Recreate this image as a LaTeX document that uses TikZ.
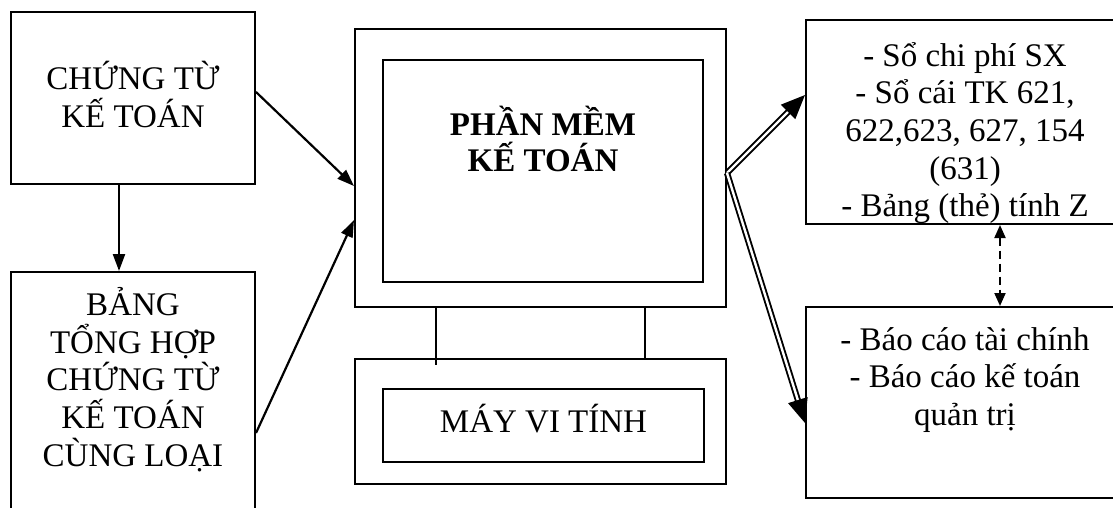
\documentclass[tikz,border=0pt]{standalone}
\usepackage{fontspec}
\setmainfont{Liberation Serif}
\usetikzlibrary{positioning,arrows.meta}

\begin{document}
\begin{tikzpicture}[x=1pt,y=-1pt,
  main box/.style={draw,line width=2pt,inner sep=0pt,align=center,
    font=\fontsize{33}{37.7}\selectfont},
  label text/.style={inner sep=0pt,align=center,font=\fontsize{33}{37.7}\selectfont},
  flow line/.style={line width=2.2pt,-{Triangle[length=17pt,width=12pt]}},
  double line/.style={double,line width=1.9pt,double distance=2.4pt,
    -{Triangle[length=24pt,width=20pt]}},
  dash line/.style={line width=2pt,dash pattern=on 8pt off 5pt,
    {Triangle[length=13pt,width=11pt]}-{Triangle[length=13pt,width=11pt]}}]
  \useasboundingbox (0,0) rectangle (1113,508);
  \clip (0,0) rectangle (1113,508);

  % left column
  \node[main box,minimum width=244pt,minimum height=172pt] (ctkt) at (133,98) {};
  \node[label text,below=50pt of ctkt.north] (ctkttext) {CHỨNG TỪ\\KẾ TOÁN};
  \node[main box,minimum width=244pt,minimum height=288pt] (bth) at (133,416) {};
  \node[label text,below=16pt of bth.north] (bthtext) {BẢNG\\TỔNG HỢP\\CHỨNG TỪ\\KẾ TOÁN\\CÙNG LOẠI};

  % computer
  \node[main box,minimum width=371pt,minimum height=278pt] (mon) at (540.5,168) {};
  \node[main box,minimum width=320pt,minimum height=222pt] (screen) at (543,171) {};
  \node[label text,font=\fontsize{33}{36}\selectfont\bfseries,below=47pt of screen.north] (pmkt) {PHẦN MỀM\\KẾ TOÁN};
  \node[main box,minimum width=371pt,minimum height=125pt] (base) at (540.5,421.5) {};
  \node[main box,minimum width=321pt,minimum height=73pt,text height=43pt,text depth=30pt] (mvt) at (543.5,425.5) {MÁY VI TÍNH};
  \draw[line width=1.4pt] (mon.south -| 436,0) -- (436,365);
  \draw[line width=1.4pt] (mon.south -| 645,0) -- (base.north -| 645,0);

  % right column
  \node[main box,minimum width=318pt,minimum height=204pt] (socp) at (965,122) {};
  \begin{scope}
    \clip (socp.north west) rectangle ([yshift=3pt]socp.south east);
    \node[label text,below=23pt of socp.north] (socptext)
      {- Sổ chi phí SX\\- Sổ cái TK 621,\\622,623, 627, 154\\(631)\\- Bảng (thẻ) tính Z};
  \end{scope}
  \node[main box,minimum width=318pt,minimum height=191pt] (bcao) at (965,402.5) {};
  \node[label text,below=21pt of bcao.north] (bcaotext) {- Báo cáo tài chính\\- Báo cáo kế toán\\quản trị};

  \coordinate (fork) at (mon.east |- 0,173);

  \path[flow line]
    (ctkt.south -| 119,0) edge (bth.north -| 119,0)
    (ctkt.east |- 0,92) edge (mon.west |- 0,186)
    (bth.east |- 0,433) edge (mon.west |- 0,220);

  \draw[double line] (fork) -- (socp.west |- 0,95);
  \draw[double line] (fork) -- (bcao.west |- 0,423);

  \path[dash line]
    (socp.south -| 1000,0) edge (bcao.north -| 1000,0);
\end{tikzpicture}
\end{document}
